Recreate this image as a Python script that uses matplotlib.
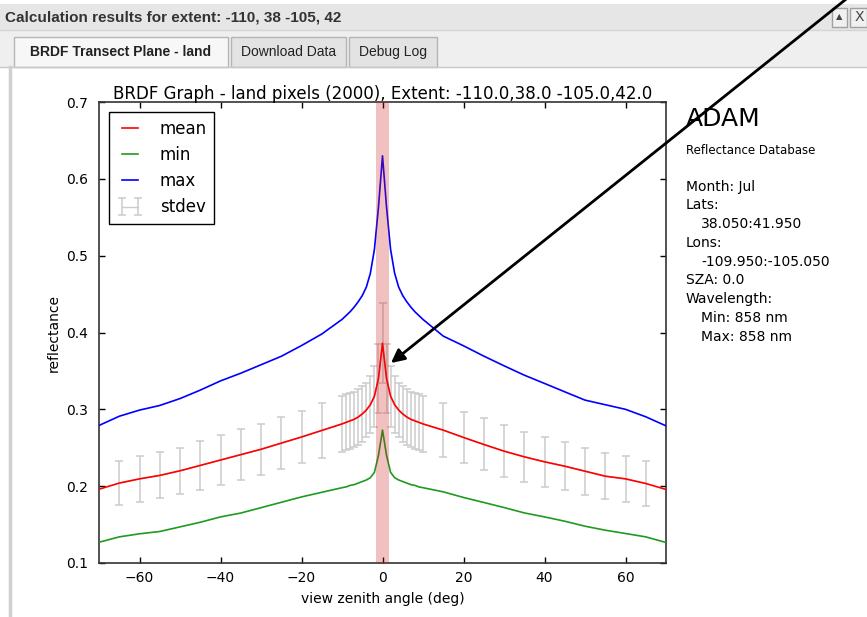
import matplotlib
matplotlib.use('Agg')
import matplotlib.pyplot as plt
from matplotlib.patches import Rectangle, FancyArrowPatch

W, H = 867, 617

# view zenith angle (deg)
angles = [-70, -65, -60, -55, -50, -45, -40, -35, -30, -25, -20, -15,
          -10, -9, -8, -7, -6, -5, -4, -3, -2, -1, 0,
          1, 2, 3, 4, 5, 6, 7, 8, 9, 10,
          15, 20, 25, 30, 35, 40, 45, 50, 55, 60, 65, 70]

mean = [0.196, 0.204, 0.2095, 0.214, 0.220, 0.227, 0.234, 0.241, 0.248, 0.256, 0.264, 0.2725,
        0.281, 0.283, 0.285, 0.287, 0.290, 0.294, 0.299, 0.306, 0.317, 0.340, 0.386,
        0.340, 0.317, 0.306, 0.299, 0.294, 0.290, 0.287, 0.285, 0.283, 0.281,
        0.2729, 0.2634, 0.2543, 0.2456, 0.2382, 0.2317, 0.226, 0.2195, 0.213, 0.2095, 0.2035, 0.1957]

vmin = [0.127, 0.134, 0.138, 0.141, 0.147, 0.153, 0.160, 0.165, 0.172, 0.179, 0.186, 0.192,
        0.198, 0.199, 0.201, 0.202, 0.204, 0.206, 0.208, 0.211, 0.218, 0.240, 0.273,
        0.240, 0.218, 0.211, 0.208, 0.206, 0.204, 0.202, 0.201, 0.199, 0.198,
        0.1926, 0.1853, 0.1788, 0.1722, 0.1652, 0.160, 0.1544, 0.1479, 0.1427, 0.1384, 0.134, 0.1267]

vmax = [0.279, 0.291, 0.299, 0.305, 0.314, 0.325, 0.337, 0.347, 0.358, 0.369, 0.383, 0.398,
        0.417, 0.422, 0.427, 0.433, 0.440, 0.448, 0.459, 0.477, 0.508, 0.563, 0.630,
        0.563, 0.508, 0.477, 0.459, 0.448, 0.440, 0.433, 0.427, 0.422, 0.417,
        0.3953, 0.3827, 0.3693, 0.3567, 0.3445, 0.3337, 0.3228, 0.312, 0.306, 0.300, 0.2903, 0.2785]

stdev = [0.029, 0.029, 0.030, 0.030, 0.030, 0.0317, 0.0327, 0.033, 0.0335, 0.034, 0.034, 0.0355,
         0.037, 0.0365, 0.036, 0.036, 0.036, 0.036, 0.0355, 0.037, 0.040, 0.045, 0.052,
         0.045, 0.040, 0.037, 0.0355, 0.036, 0.036, 0.036, 0.036, 0.0365, 0.037,
         0.0355, 0.0337, 0.0338, 0.0334, 0.0323, 0.0327, 0.0315, 0.0305, 0.030, 0.0298, 0.029, 0.029]

info_lines = [('Month: Jul', 0), ('Lats:', 0), ('38.050:41.950', 1), ('Lons:', 0),
              ('-109.950:-105.050', 1), ('SZA: 0.0', 0), ('Wavelength:', 0),
              ('Min: 858 nm', 1), ('Max: 858 nm', 1)]
tabs = [('BRDF Transect Plane - land', 14, 228, True),
        ('Download Data', 231, 346, False),
        ('Debug Log', 349, 437, False)]


def fx(px):
    return px / W


def fy(py):
    # pixel measured from the top
    return 1 - py / H


fig = plt.figure(figsize=(W / 100, H / 100), dpi=100)
ax = fig.add_axes([fx(99), fy(563), fx(666) - fx(99), fy(102) - fy(563)])

# errorbar line sits under the mean line
ax.errorbar(angles[1:-1], mean[1:-1], yerr=stdev[1:-1], color='#cccccc', ecolor='#cccccc',
            lw=1, elinewidth=1.1, capsize=3, capthick=1.1, label='stdev', zorder=1)
ax.plot(angles, mean, color='red', lw=1.2, label='mean', zorder=3)
ax.plot(angles, vmin, color='#1f9a1f', lw=1.2, label='min', zorder=3)
ax.plot(angles, vmax, color='blue', lw=1.2, label='max', zorder=3)
ax.axvspan(-1.7, 1.7, color=(0.8, 0.1, 0.1), alpha=0.27, lw=0, zorder=5)

ax.set_xlim(-70, 70)
ax.set_ylim(0.1, 0.7)
ax.set_xticks([-60, -40, -20, 0, 20, 40, 60])
ax.set_yticks([0.1, 0.2, 0.3, 0.4, 0.5, 0.6, 0.7])
ax.tick_params(direction='in', top=True, right=True, length=4, width=1, labelsize=10)
ax.tick_params(axis='y', pad=8)
ax.tick_params(axis='x', pad=6)
for s in ax.spines.values():
    s.set_color('#333333')
    s.set_linewidth(1.2)

ax.set_title('BRDF Graph - land pixels (2000), Extent: -110.0,38.0 -105.0,42.0', fontsize=12, pad=2)
ax.set_xlabel('view zenith angle (deg)', fontsize=10, labelpad=5)
ax.set_ylabel('reflectance', fontsize=10)

leg = ax.legend(loc='upper left', numpoints=2, fancybox=False, edgecolor='black', framealpha=1,
                fontsize=12, handlelength=1.6, handletextpad=1.0, borderpad=0.45, labelspacing=0.5,
                borderaxespad=0.6)
leg.get_frame().set_linewidth(1)

# right side info panel
fig.text(fx(686), fy(119), 'ADAM', fontsize=18, va='center')
fig.text(fx(686), fy(150), 'Reflectance Database', fontsize=8.5, va='center')
for i, (txt, indent) in enumerate(info_lines):
    fig.text(fx(686 + 15 * indent), fy(186.5 + 18.8 * i), txt, fontsize=10, va='center')

# window chrome
ui_font = ['Liberation Sans', 'DejaVu Sans']
fig.add_artist(Rectangle((0, fy(30)), 1, fy(4) - fy(30), transform=fig.transFigure,
                         facecolor='#e6e6e6', edgecolor='none'))
fig.add_artist(Rectangle((0, fy(67)), 1, fy(30) - fy(67), transform=fig.transFigure,
                         facecolor='#efefef', edgecolor='none'))
fig.add_artist(plt.Line2D([0, 1], [fy(67), fy(67)], transform=fig.transFigure, color='#c8c8c8', lw=1))
fig.add_artist(plt.Line2D([0, 1], [fy(30), fy(30)], transform=fig.transFigure, color='#d4d4d4', lw=1))
fig.text(fx(5), fy(17), 'Calculation results for extent: -110, 38 -105, 42', fontsize=11,
         fontweight='bold', color='#333333', va='center', family=ui_font)
for label, x0, x1, active in tabs:
    fig.add_artist(Rectangle((fx(x0), fy(67)), fx(x1) - fx(x0), fy(37) - fy(67),
                             transform=fig.transFigure, facecolor='#f7f7f7' if active else '#e3e3e3',
                             edgecolor='#b5b5b5', lw=1))
    fig.text(fx((x0 + x1) / 2), fy(52), label, fontsize=10, ha='center', va='center',
             fontweight='bold' if active else 'normal', color='#222222', family=ui_font)
fig.add_artist(Rectangle((fx(832), fy(27)), fx(15), fy(8) - fy(27), transform=fig.transFigure,
                         facecolor='#f0f0f0', edgecolor='#a0a0a0', lw=1))
fig.text(fx(839.5), fy(17), '\u25b2', fontsize=6, ha='center', va='center', color='#444444')
fig.add_artist(Rectangle((fx(850), fy(27)), fx(17), fy(8) - fy(27), transform=fig.transFigure,
                         facecolor='#f0f0f0', edgecolor='#a0a0a0', lw=1))
fig.text(fx(859), fy(17), 'X', fontsize=10, ha='center', va='center', color='#444444')
fig.add_artist(plt.Line2D([fx(10), fx(10)], [0, fy(67)], transform=fig.transFigure,
                          color='#d0d0d0', lw=2.5))

# annotation arrow pointing to the peak
fig.add_artist(FancyArrowPatch((fx(850), fy(-4)), (fx(391), fy(363)), transform=fig.transFigure,
                               arrowstyle='-|>', mutation_scale=20, lw=2, color='black',
                               shrinkA=0, shrinkB=0, zorder=10))

fig.savefig('out.png', dpi=100)
